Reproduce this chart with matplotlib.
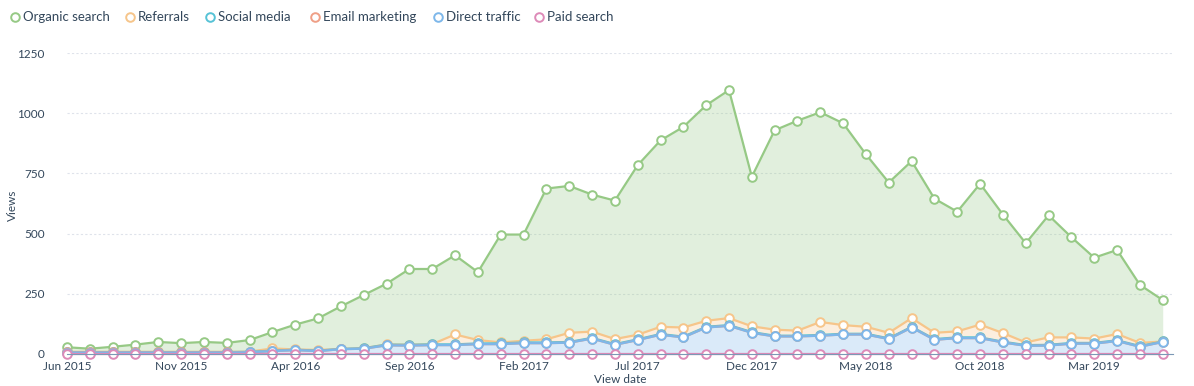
"""
Stacked traffic-source views, Jun 2015 - Jun 2019.
"""

import numpy as np
import matplotlib

matplotlib.use("Agg")
import matplotlib.pyplot as plt
from matplotlib.lines import Line2D

plt.rcParams["font.family"] = ["Lato", "DejaVu Sans"]

months = ["Jun 2015", "Jul 2015", "Aug 2015", "Sep 2015", "Oct 2015", "Nov 2015",
          "Dec 2015", "Jan 2016", "Feb 2016", "Mar 2016", "Apr 2016", "May 2016",
          "Jun 2016", "Jul 2016", "Aug 2016", "Sep 2016", "Oct 2016", "Nov 2016",
          "Dec 2016", "Jan 2017", "Feb 2017", "Mar 2017", "Apr 2017", "May 2017",
          "Jun 2017", "Jul 2017", "Aug 2017", "Sep 2017", "Oct 2017", "Nov 2017",
          "Dec 2017", "Jan 2018", "Feb 2018", "Mar 2018", "Apr 2018", "May 2018",
          "Jun 2018", "Jul 2018", "Aug 2018", "Sep 2018", "Oct 2018", "Nov 2018",
          "Dec 2018", "Jan 2019", "Feb 2019", "Mar 2019", "Apr 2019", "May 2019",
          "Jun 2019"]

# series values (views per month), listed bottom of stack first
paid_search = [0] * 49
direct_traffic = [6, 6, 6, 6, 6, 6, 6, 6, 7, 12, 16, 12, 20, 22, 36, 35, 37, 37,
                  41, 41, 45, 45, 47, 64, 38, 58, 80, 69, 110, 117, 88, 73, 73,
                  76, 81, 81, 62, 110, 59, 66, 66, 48, 34, 35, 43, 43, 54, 30, 50]
email_marketing = [1, 1, 1, 1, 1, 1, 1, 1, 0, 0, 0, 0, 0, 0, 0, 0, 0, 0, 0, 0,
                   0, 0, 0, 0, 0, 0, 0, 0, 0, 0, 0, 0, 0, 0, 0, 0, 0, 0, 0, 0,
                   0, 0, 0, 0, 0, 0, 0, 0, 0]
social_media = [1, 1, 1, 1, 1, 1, 1, 1, 2, 2, 2, 2, 1, 2, 3, 3, 3, 3, 3, 3,
                3, 3, 3, 3, 3, 3, 3, 3, 3, 3, 3, 3, 3, 3, 3, 3, 3, 3, 3, 3,
                3, 3, 3, 3, 3, 3, 3, 3, 2]
referrals = [1, 1, 1, 1, 1, 1, 1, 1, 1, 9, 1, 3, 0, 0, 1, 1, 1, 41, 14, 4,
             7, 13, 38, 26, 21, 19, 30, 38, 25, 29, 24, 25, 21, 54, 36, 29,
             23, 36, 26, 25, 53, 36, 11, 31, 23, 18, 26, 13, 0]
organic_search = [19, 13, 21, 30, 41, 36, 41, 37, 48, 68, 103, 131, 177, 221,
                  252, 314, 312, 329, 282, 448, 441, 626, 610, 569, 575, 704,
                  774, 833, 895, 947, 621, 828, 872, 871, 838, 716, 624, 652,
                  557, 497, 585, 492, 412, 507, 416, 336, 349, 241, 172]

tick_every = 5
y_ticks = [0, 250, 500, 750, 1000, 1250]

# name, values, line colour (stack order bottom -> top)
stack = [
    ("Paid search", paid_search, "#dd8ab8"),
    ("Direct traffic", direct_traffic, "#7db7ea"),
    ("Email marketing", email_marketing, "#ef9f86"),
    ("Social media", social_media, "#56c2d6"),
    ("Referrals", referrals, "#f6c58a"),
    ("Organic search", organic_search, "#96c985"),
]
legend_order = ["Organic search", "Referrals", "Social media",
                "Email marketing", "Direct traffic", "Paid search"]
legend_x = [15, 130, 210, 315, 438, 539]

text_col = "#33475b"

fig = plt.figure(figsize=(11.94, 3.86), dpi=100)
ax = fig.add_axes([67 / 1194, 32 / 386, 1106 / 1194, 301 / 386])

x = np.arange(len(months))
base = np.zeros(len(months))
for i, (name, vals, col) in enumerate(stack):
    top = base + np.array(vals, dtype=float)
    ax.fill_between(x, base, top, color=col, alpha=0.28, lw=0, zorder=2)
    # lower series drawn in front, as in the original
    ax.plot(x, top, color=col, lw=1.6, marker="o", ms=6.2, mfc="white",
            mec=col, mew=1.4, zorder=20 - i, clip_on=False)
    base = top

ax.set_xlim(0, 48.45)
ax.set_ylim(0, 1250)
ax.set_yticks(y_ticks)
ax.set_yticklabels([str(v) for v in y_ticks])
ax.set_xticks(x[::tick_every])
ax.set_xticklabels(months[::tick_every])
ax.tick_params(length=0, labelsize=8.5, colors=text_col)
ax.tick_params(axis="y", pad=16)
ax.tick_params(axis="x", pad=5)

ax.grid(axis="y", color="#dfe3eb", lw=0.8, ls=(0, (2, 2)), zorder=0)
for s in ["top", "right", "left"]:
    ax.spines[s].set_visible(False)
ax.spines["bottom"].set_color("#7c98b6")
ax.spines["bottom"].set_linewidth(0.8)
ax.spines["bottom"].set_zorder(30)

fig.text(12 / 1194, 1 - 205 / 386, "Views", rotation=90, ha="center",
         va="center", fontsize=8.5, color=text_col)
fig.text(620 / 1194, 1 / 386, "View date", ha="center", va="bottom",
         fontsize=8.5, color=text_col)

colors = {name: col for name, _, col in stack}
for name, lx in zip(legend_order, legend_x):
    fy = 1 - 17 / 386
    fig.add_artist(Line2D([lx / 1194], [fy], marker="o", ms=6.2, mfc="white",
                          mec=colors[name], mew=1.4, transform=fig.transFigure))
    fig.text((lx + 8) / 1194, fy, name, ha="left", va="center", fontsize=9.5,
             color=text_col)

fig.savefig("out.png", dpi=100)
plt.close(fig)
